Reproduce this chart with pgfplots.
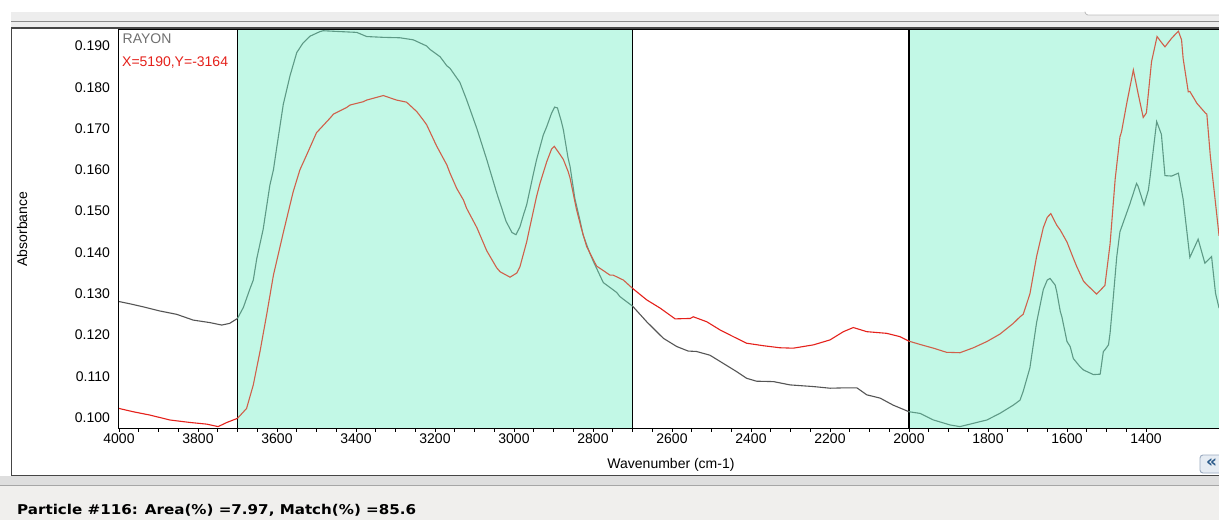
\documentclass[border=0pt]{standalone}
\usepackage{pgfplots}
\pgfplotsset{compat=1.18}
\usepackage{pgfplotstable}
\usepackage{fontspec}
\setmainfont{Liberation Sans}
\newfontfamily\uibold[FakeStretch=1.12]{DejaVu Sans Bold}
\newfontfamily\uisym{DejaVu Sans Bold}

\definecolor{bandfill}{HTML}{C2F8E6}
\definecolor{grayout}{HTML}{555555}
\definecolor{grayin}{HTML}{5E9A86}
\definecolor{redout}{HTML}{E5211B}
\definecolor{redin}{HTML}{D0604A}
\definecolor{chrome}{HTML}{EDEDED}
\definecolor{chromeline}{HTML}{8A8A8A}
\definecolor{panelline}{HTML}{454545}
\definecolor{statusbg}{HTML}{F0EFED}
\definecolor{btnfill}{HTML}{E6ECF3}
\definecolor{btnline}{HTML}{9AAAC0}
\definecolor{btntext}{HTML}{2A5A8A}
\definecolor{labelgray}{HTML}{707070}

% sample spectrum (gray) and library match (red)
\pgfplotstableread{
wn A
4000 0.1281
3970 0.1275
3938 0.1268
3896 0.1258
3854 0.1250
3812 0.1236
3770 0.1230
3740 0.1224
3720 0.1228
3700 0.1240
3685 0.1267
3668 0.1313
3660 0.1333
3651 0.1386
3635 0.1456
3618 0.1563
3609 0.1600
3601 0.1652
3584 0.1759
3567 0.1828
3550 0.1884
3535 0.1906
3525 0.1916
3516 0.1924
3491 0.1935
3483 0.1937
3441 0.1935
3398 0.1933
3373 0.1923
3331 0.1921
3289 0.1920
3255 0.1915
3221 0.1900
3213 0.1892
3187 0.1874
3170 0.1852
3162 0.1846
3137 0.1812
3120 0.1770
3094 0.1700
3069 0.1625
3044 0.1545
3020 0.1475
3005 0.1448
2995 0.1443
2985 0.1462
2976 0.1491
2968 0.1515
2951 0.1590
2943 0.1624
2926 0.1684
2917 0.1705
2905 0.1737
2897 0.1752
2890 0.1750
2880 0.1717
2875 0.1697
2863 0.1628
2858 0.1608
2846 0.1531
2833 0.1478
2825 0.1442
2808 0.1398
2799 0.1378
2774 0.1327
2740 0.1303
2732 0.1293
2700 0.1270
2664 0.1232
2622 0.1192
2588 0.1172
2559 0.1161
2538 0.1160
2504 0.1151
2470 0.1131
2436 0.1111
2411 0.1095
2386 0.1088
2343 0.1087
2301 0.1079
2242 0.1075
2200 0.1071
2158 0.1072
2132 0.1072
2107 0.1055
2073 0.1047
2040 0.1030
2000 0.1014
1972 0.1010
1938 0.0994
1896 0.0982
1871 0.0978
1837 0.0986
1803 0.0994
1770 0.1010
1736 0.1030
1719 0.1042
1711 0.1063
1694 0.1120
1677 0.1230
1660 0.1310
1650 0.1333
1643 0.1337
1630 0.1321
1626 0.1305
1617 0.1257
1613 0.1244
1600 0.1184
1592 0.1172
1584 0.1143
1567 0.1123
1558 0.1115
1533 0.1104
1516 0.1105
1508 0.1160
1504 0.1164
1495 0.1176
1491 0.1204
1483 0.1289
1474 0.1390
1466 0.1450
1457 0.1474
1441 0.1517
1424 0.1567
1420 0.1560
1405 0.1515
1394 0.1551
1390 0.1580
1373 0.1717
1361 0.1686
1352 0.1586
1335 0.1585
1318 0.1592
1306 0.1529
1289 0.1388
1268 0.1432
1251 0.1374
1234 0.1390
1224 0.1301
1215 0.1265
}\samplespec

\pgfplotstableread{
wn A
4000 0.1022
3964 0.1014
3922 0.1006
3871 0.0994
3820 0.0988
3778 0.0984
3749 0.0978
3727 0.0988
3700 0.0998
3677 0.1022
3660 0.1079
3643 0.1160
3626 0.1250
3609 0.1345
3584 0.1448
3559 0.1547
3542 0.1600
3525 0.1636
3500 0.1690
3466 0.1725
3457 0.1735
3424 0.1751
3415 0.1757
3382 0.1765
3373 0.1769
3331 0.1780
3297 0.1769
3272 0.1764
3246 0.1741
3230 0.1721
3221 0.1709
3196 0.1658
3170 0.1612
3162 0.1592
3145 0.1555
3128 0.1527
3120 0.1507
3094 0.1460
3069 0.1404
3044 0.1363
3035 0.1353
3010 0.1340
2993 0.1350
2985 0.1365
2968 0.1425
2959 0.1465
2943 0.1535
2934 0.1568
2917 0.1620
2905 0.1650
2898 0.1657
2884 0.1638
2875 0.1625
2863 0.1596
2858 0.1580
2842 0.1505
2830 0.1460
2816 0.1414
2791 0.1367
2757 0.1345
2749 0.1345
2723 0.1333
2700 0.1313
2664 0.1285
2630 0.1265
2592 0.1239
2554 0.1240
2546 0.1244
2512 0.1232
2478 0.1212
2445 0.1196
2411 0.1180
2369 0.1174
2327 0.1169
2293 0.1168
2242 0.1176
2200 0.1188
2166 0.1208
2141 0.1218
2107 0.1208
2057 0.1204
2023 0.1196
2000 0.1185
1972 0.1177
1938 0.1168
1905 0.1158
1871 0.1157
1837 0.1169
1803 0.1184
1770 0.1202
1736 0.1228
1719 0.1244
1711 0.1250
1694 0.1299
1677 0.1390
1660 0.1460
1650 0.1485
1641 0.1494
1626 0.1466
1617 0.1454
1600 0.1425
1584 0.1386
1575 0.1365
1558 0.1330
1549 0.1321
1525 0.1299
1504 0.1320
1491 0.1420
1478 0.1578
1466 0.1680
1462 0.1692
1449 0.1760
1432 0.1842
1420 0.1785
1407 0.1727
1399 0.1738
1394 0.1785
1386 0.1862
1372 0.1923
1362 0.1910
1352 0.1898
1335 0.1919
1318 0.1936
1310 0.1915
1306 0.1870
1293 0.1789
1289 0.1790
1271 0.1761
1249 0.1737
1246 0.1735
1237 0.1632
1224 0.1519
1215 0.1440
}\libraryspec

\begin{document}
\begin{tikzpicture}
% window chrome, in screen pixels (1px = 1pt, y downwards)
\begin{scope}[x=1pt,y=-1pt]
  \fill[white] (0,0) rectangle (1219,520);
  \fill[chrome] (11,11.5) rectangle (1219,28);
  \draw[chromeline, line width=0.9pt] (11,21.5) -- (1219,21.5);
  \fill[white] (1085,11.5) rectangle (1219,15);
  \draw[black!25, line width=0.9pt, rounded corners=3pt] (1085,11.5) -- (1085,15) -- (1225,15);
  \fill[statusbg] (0,476) rectangle (1219,520);
  \fill[black!13] (0,476) rectangle (1219,485);
  \draw[black!35, line width=0.8pt] (0,485) -- (1219,485);
  \draw[panelline, line width=1.3pt, fill=white] (11.5,28) rectangle (1235,475.5);
\end{scope}

\begin{axis}[
  at={(119pt,-428pt)}, anchor=south west,
  scale only axis, width=1100pt, height=399pt,
  x dir=reverse, xmin=1215.2, xmax=4000,
  ymin=0.09746, ymax=0.19412,
  axis on top,
  axis line style={black, line width=1pt},
  tick pos=left, tick align=outside,
  major tick length=3.5pt, minor tick length=3.5pt,
  xtick={1400,1600,...,4000}, minor x tick num=3,
  xtick style={black, line width=0.7pt},
  ytick={0.10,0.11,0.12,0.13,0.14,0.15,0.16,0.17,0.18,0.19},
  ytick style={draw=none},
  scaled y ticks=false, scaled x ticks=false,
  x tick label style={/pgf/number format/1000 sep={}, yshift=1pt},
  y tick label style={/pgf/number format/fixed, /pgf/number format/precision=3,
    /pgf/number format/fixed zerofill, xshift=-2pt},
  /pgf/number format/assume math mode=true,
  tick label style={font=\fontsize{14}{16}\selectfont, black},
]
  % highlighted spectral windows
  \fill[bandfill] (axis cs:3700,0.09746) rectangle (axis cs:2700,0.19412);
  \fill[bandfill] (axis cs:2000,0.09746) rectangle (axis cs:1215.2,0.19412);
  \draw[black, line width=1.1pt] (axis cs:3700,0.09746) -- (axis cs:3700,0.19412);
  \draw[black, line width=1.1pt] (axis cs:2700,0.09746) -- (axis cs:2700,0.19412);
  \draw[black, line width=1.1pt] (axis cs:2000,0.09746) -- (axis cs:2000,0.19412);

  % sample
  \addplot[grayout, line width=1.1pt, restrict x to domain=3700:4000] table[x=wn,y=A] {\samplespec};
  \addplot[grayin,  line width=1.1pt, restrict x to domain=2700:3700] table[x=wn,y=A] {\samplespec};
  \addplot[grayout, line width=1.1pt, restrict x to domain=2000:2700] table[x=wn,y=A] {\samplespec};
  \addplot[grayin,  line width=1.1pt, restrict x to domain=1200:2000] table[x=wn,y=A] {\samplespec};
  % library reference
  \addplot[redout, line width=1.1pt, restrict x to domain=3700:4000] table[x=wn,y=A] {\libraryspec};
  \addplot[redin,  line width=1.1pt, restrict x to domain=2700:3700] table[x=wn,y=A] {\libraryspec};
  \addplot[redout, line width=1.1pt, restrict x to domain=2000:2700] table[x=wn,y=A] {\libraryspec};
  \addplot[redin,  line width=1.1pt, restrict x to domain=1200:2000] table[x=wn,y=A] {\libraryspec};
\end{axis}

\begin{scope}[x=1pt,y=-1pt]
  \node[anchor=west, inner sep=0pt, text=labelgray, font=\fontsize{14}{16}\selectfont] at (122.5,39) {RAYON};
  \node[anchor=west, inner sep=0pt, text=redout, font=\fontsize{14}{16}\selectfont] at (122,63) {X=5190,Y=-3164};
  \node[rotate=90, inner sep=0pt, font=\fontsize{14}{16}\selectfont] at (22,229) {Absorbance};
  \node[inner sep=0pt, font=\fontsize{14}{16}\selectfont] at (671,465) {Wavenumber (cm-1)};
  \node[anchor=base west, inner sep=0pt, font=\uibold\fontsize{13.5}{16}\selectfont] at (17,514.5)
    {Particle \#116: Area(\%) =7.97, Match(\%) =85.6};
  \draw[btnline, fill=btnfill, line width=0.9pt, rounded corners=3pt] (1200,455) rectangle (1232,473);
  \node[anchor=west, inner sep=0pt, text=btntext, font=\uisym\fontsize{17}{18}\selectfont] at (1206,463.5) {«};
\end{scope}
\pgfresetboundingbox
\path (0pt,0pt) rectangle (1219pt,-520pt);
\end{tikzpicture}
\end{document}
